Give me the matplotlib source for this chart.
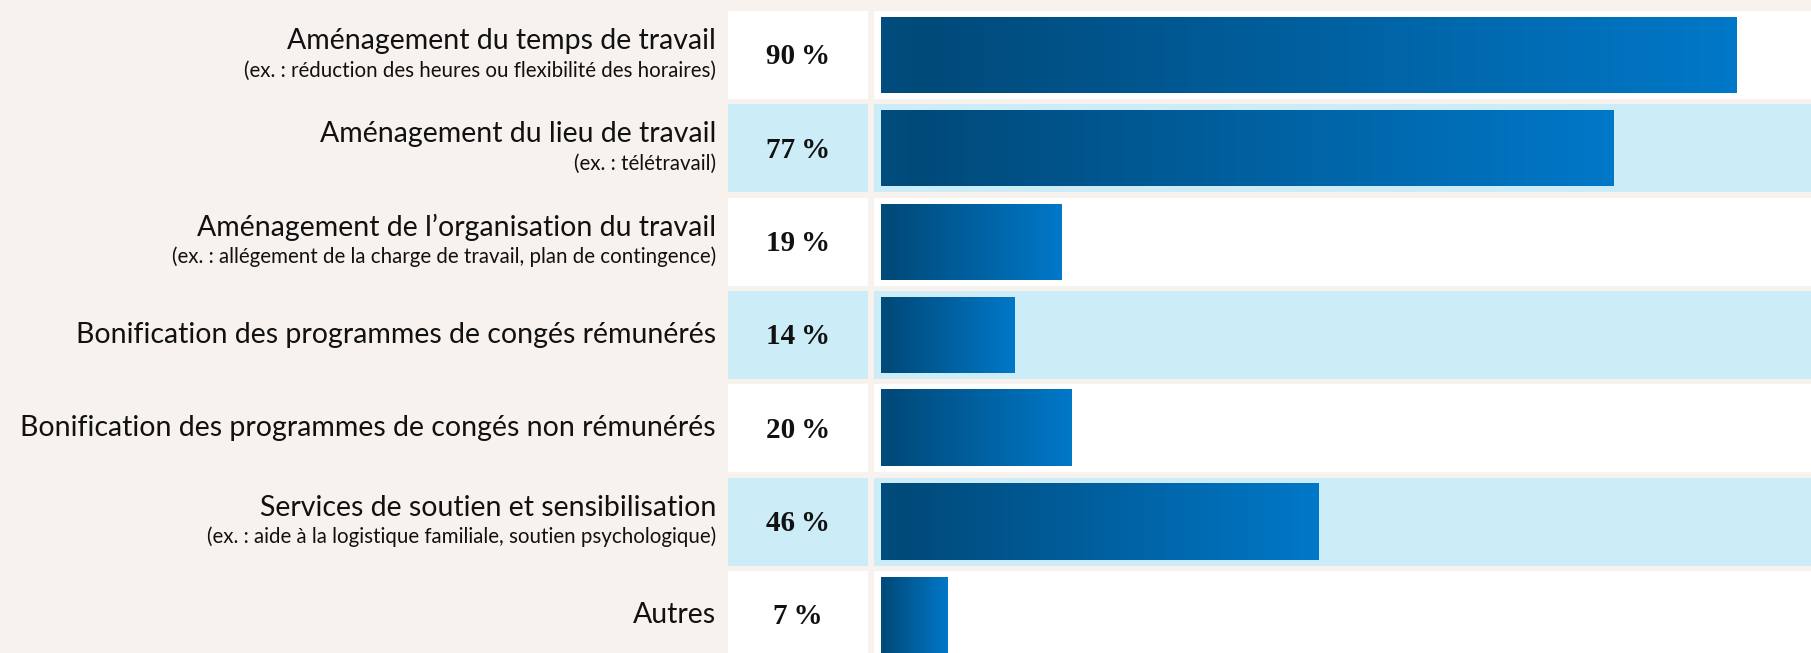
import numpy as np
import matplotlib.pyplot as plt
from matplotlib.colors import LinearSegmentedColormap
from matplotlib.patches import Rectangle

labels = [
    "Aménagement du temps de travail",
    "Aménagement du lieu de travail",
    "Aménagement de l\u2019organisation du travail",
    "Bonification des programmes de congés rémunérés",
    "Bonification des programmes de congés non rémunérés",
    "Services de soutien et sensibilisation",
    "Autres",
]
sublabels = [
    "(ex. : réduction des heures ou flexibilité des horaires)",
    "(ex. : télétravail)",
    "(ex. : allégement de la charge de travail, plan de contingence)",
    "",
    "",
    "(ex. : aide à la logistique familiale, soutien psychologique)",
    "",
]
values = [90, 77, 19, 14, 20, 46, 7]

BEIGE = "#f7f2ee"
LIGHT = "#ccecf8"
grad = LinearSegmentedColormap.from_list(
    "bar", [(0, "#024d7d"), (0.05, "#004a7a"), (1, "#0078c8")])

W, H = 1811, 653
fig = plt.figure(figsize=(W / 100, H / 100), dpi=100, facecolor=BEIGE)
ax = fig.add_axes([0, 0, 1, 1])
ax.set_facecolor(BEIGE)

# x in percent, 0 at pixel 881, 9.51 px per percent
px = 9.51
x0 = 881
pitch = 93.33
ax.axis("off")

row_h = 88 / pitch
bar_h = 76 / pitch
cell_l, cell_r = (728 - x0) / px, (868 - x0) / px
track_l = (874 - x0) / px
label_x = (716 - x0) / px
gimg = np.linspace(0, 1, 512).reshape(1, -1)

for i, (lab, sub, v) in enumerate(zip(labels, sublabels, values)):
    fc = "white" if i % 2 == 0 else LIGHT
    ax.add_patch(Rectangle((cell_l, i - row_h / 2), cell_r - cell_l, row_h,
                           facecolor=fc, edgecolor="none", zorder=1))
    ax.add_patch(Rectangle((track_l, i - row_h / 2), 200, row_h,
                           facecolor=fc, edgecolor="none", zorder=1))
    ax.imshow(gimg, cmap=grad, aspect="auto", interpolation="bilinear",
              extent=(0, v, i + bar_h / 2, i - bar_h / 2), zorder=2)
    ax.text((cell_l + cell_r) / 2, i + 0.02, f"{v}\u2009%", ha="center", va="center",
            fontsize=21, fontweight="bold", family=["Liberation Serif", "DejaVu Serif"],
            color="#111111", zorder=3)
    if sub:
        ax.text(label_x, i - 0.15, lab, ha="right", va="center", fontsize=20.5,
                family="Lato", color="#111111", zorder=3)
        ax.text(label_x, i + 0.165, sub, ha="right", va="center", fontsize=14.8,
                family="Lato", color="#111111", zorder=3)
    else:
        ax.text(label_x, i, lab, ha="right", va="center", fontsize=20.5,
                family="Lato", color="#111111", zorder=3)

ax.set_xlim(-x0 / px, (W - x0) / px)
ax.set_ylim((H - 55) / pitch, -55 / pitch)
fig.savefig("out.png", dpi=100, facecolor=BEIGE)
